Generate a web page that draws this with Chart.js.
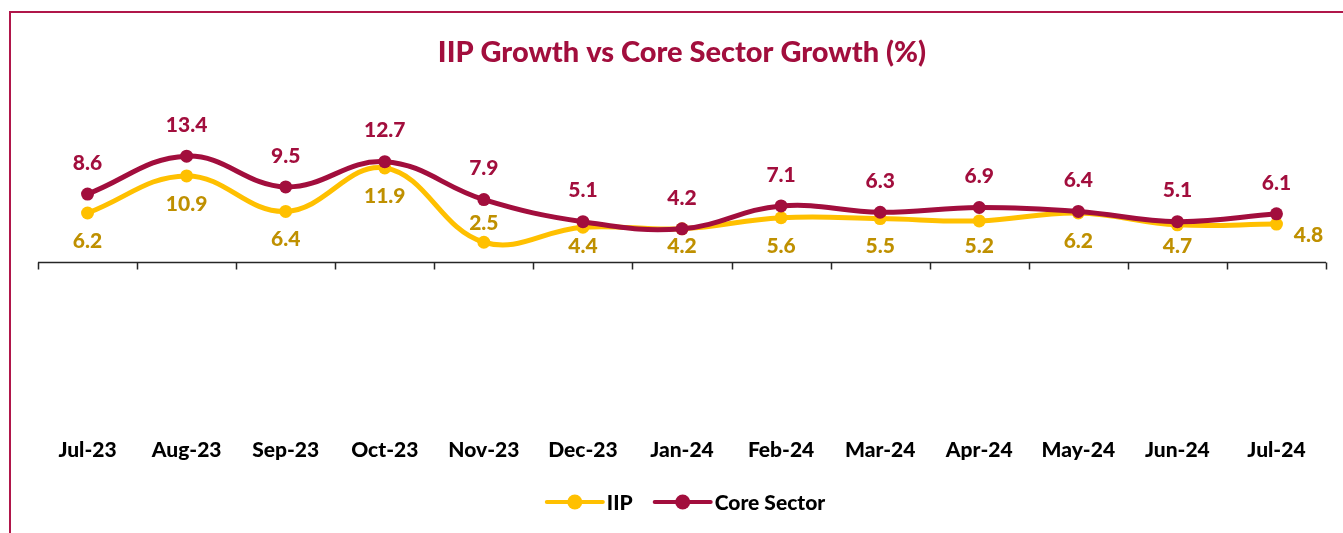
<!DOCTYPE html>
<html><head><meta charset="utf-8">
<script src="https://cdn.jsdelivr.net/npm/chart.js@4.4.1/dist/chart.umd.min.js"></script>
<style>
html,body{margin:0;padding:0;background:#fff;overflow:hidden}
#wrap{position:relative;width:1343px;height:533px}
#frame{position:absolute;left:9px;top:11px;width:1400px;height:600px;border-left:2px solid #B0164A;border-top:2px solid #B0164A;pointer-events:none}
canvas{display:block}
</style></head><body>
<div id="wrap"><canvas id="c" width="1343" height="533"></canvas><div id="frame"></div></div>
<script>
const categories = ['Jul-23','Aug-23','Sep-23','Oct-23','Nov-23','Dec-23','Jan-24','Feb-24','Mar-24','Apr-24','May-24','Jun-24','Jul-24'];
const iipValues  = [6.2, 10.9, 6.4, 11.9, 2.5, 4.4, 4.2, 5.6, 5.5, 5.2, 6.2, 4.7, 4.8];
const coreValues = [8.6, 13.4, 9.5, 12.7, 7.9, 5.1, 4.2, 7.1, 6.3, 6.9, 6.4, 5.1, 6.1];
const seriesNames = ['IIP', 'Core Sector'];
const chartTitle = 'IIP Growth vs Core Sector Growth (%)';

const FONT = 'Lato, "Open Sans", sans-serif';
const MAROON = '#A20E3D';
const GOLD = '#FFC000';
const GOLD_TEXT = '#BF9000';

const zeroAxis = {
  id: 'zeroAxis',
  beforeDatasetsDraw(chart) {
    const {ctx, chartArea: a, scales: {x, y}} = chart;
    const y0 = Math.round(y.getPixelForValue(0)) + 0.5;
    const n = categories.length;
    const step = (a.right - a.left) / n;
    ctx.save();
    ctx.strokeStyle = '#262626';
    ctx.lineWidth = 1.5;
    ctx.beginPath();
    ctx.moveTo(a.left, y0); ctx.lineTo(a.right, y0);
    for (let k = 0; k <= n; k++) {
      const px = Math.round(a.left + k * step) + 0.5;
      ctx.moveTo(px, y0); ctx.lineTo(px, y0 + 7);
    }
    ctx.stroke();
    ctx.restore();
  }
};

const labelsPlugin = {
  id: 'valueLabels',
  afterDatasetsDraw(chart) {
    const {ctx} = chart;
    ctx.save();
    ctx.font = '900 21px ' + FONT;
    ctx.textAlign = 'center';
    ctx.textBaseline = 'middle';
    chart.data.datasets.forEach((ds, di) => {
      const meta = chart.getDatasetMeta(di);
      meta.data.forEach((pt, i) => {
        const v = ds.data[i];
        const txt = v.toFixed(1);
        let tx = pt.x, ty;
        if (ds.label === 'Core Sector') {
          ctx.fillStyle = MAROON;
          ty = pt.y - 31;
        } else {
          ctx.fillStyle = GOLD_TEXT;
          if (i === 4) { ty = pt.y - 19; }
          else if (i === categories.length - 1) { tx = pt.x + 32; ty = pt.y + 11; }
          else { ty = Math.min(pt.y + 28, 246); }
        }
        ctx.fillText(txt, tx, ty);
      });
    });
    ctx.restore();
  }
};

const titleLegend = {
  id: 'titleLegend',
  afterDraw(chart) {
    const {ctx, chartArea: a} = chart;
    ctx.save();
    ctx.fillStyle = MAROON;
    ctx.font = '900 29px ' + FONT;
    ctx.textAlign = 'center';
    ctx.textBaseline = 'middle';
    ctx.fillText(chartTitle, (a.left + a.right) / 2, 53);
    // legend
    ctx.font = '900 21px ' + FONT;
    ctx.textBaseline = 'middle';
    ctx.textAlign = 'left';
    const ly = 502;
    const items = [
      {name: seriesNames[0], color: GOLD},
      {name: seriesNames[1], color: MAROON}
    ];
    const lineW = 56, gap = 4, itemGap = 22;
    let total = 0;
    items.forEach(it => { it.w = ctx.measureText(it.name).width; total += lineW + gap + it.w; });
    total += itemGap * (items.length - 1);
    let lx = 686 - total / 2;
    items.forEach(it => {
      ctx.strokeStyle = it.color;
      ctx.lineWidth = 4;
      ctx.lineCap = 'round';
      ctx.beginPath(); ctx.moveTo(lx, ly); ctx.lineTo(lx + lineW, ly); ctx.stroke();
      ctx.fillStyle = it.color;
      ctx.beginPath(); ctx.arc(lx + lineW / 2, ly, 7.5, 0, Math.PI * 2); ctx.fill();
      ctx.fillStyle = '#000';
      ctx.fillText(it.name, lx + lineW + gap, ly + 1);
      lx += lineW + gap + it.w + itemGap;
    });
    ctx.restore();
  }
};

new Chart(document.getElementById('c'), {
  type: 'line',
  data: {
    labels: categories,
    datasets: [
      {label: seriesNames[0], data: iipValues, borderColor: GOLD, backgroundColor: GOLD,
       borderWidth: 5, pointRadius: 6.5, pointBorderWidth: 0, tension: 0.4, order: 1},
      {label: seriesNames[1], data: coreValues, borderColor: MAROON, backgroundColor: MAROON,
       borderWidth: 5, pointRadius: 6.5, pointBorderWidth: 0, tension: 0.4, order: 0}
    ]
  },
  options: {
    responsive: false,
    devicePixelRatio: 1,
    animation: false,
    layout: {padding: {top: 104, left: 38, right: 17, bottom: 0}},
    plugins: {legend: {display: false}, title: {display: false}, tooltip: {enabled: false}},
    scales: {
      x: {
        offset: true,
        grid: {display: false},
        border: {display: false},
        ticks: {color: '#000', font: {family: FONT, size: 21, weight: '900'}, padding: 10, maxRotation: 0, autoSkip: false},
        afterFit(scale) { scale.height = 113; }
      },
      y: {display: false, min: -20, max: 20}
    }
  },
  plugins: [zeroAxis, labelsPlugin, titleLegend]
});
</script>
</body></html>
